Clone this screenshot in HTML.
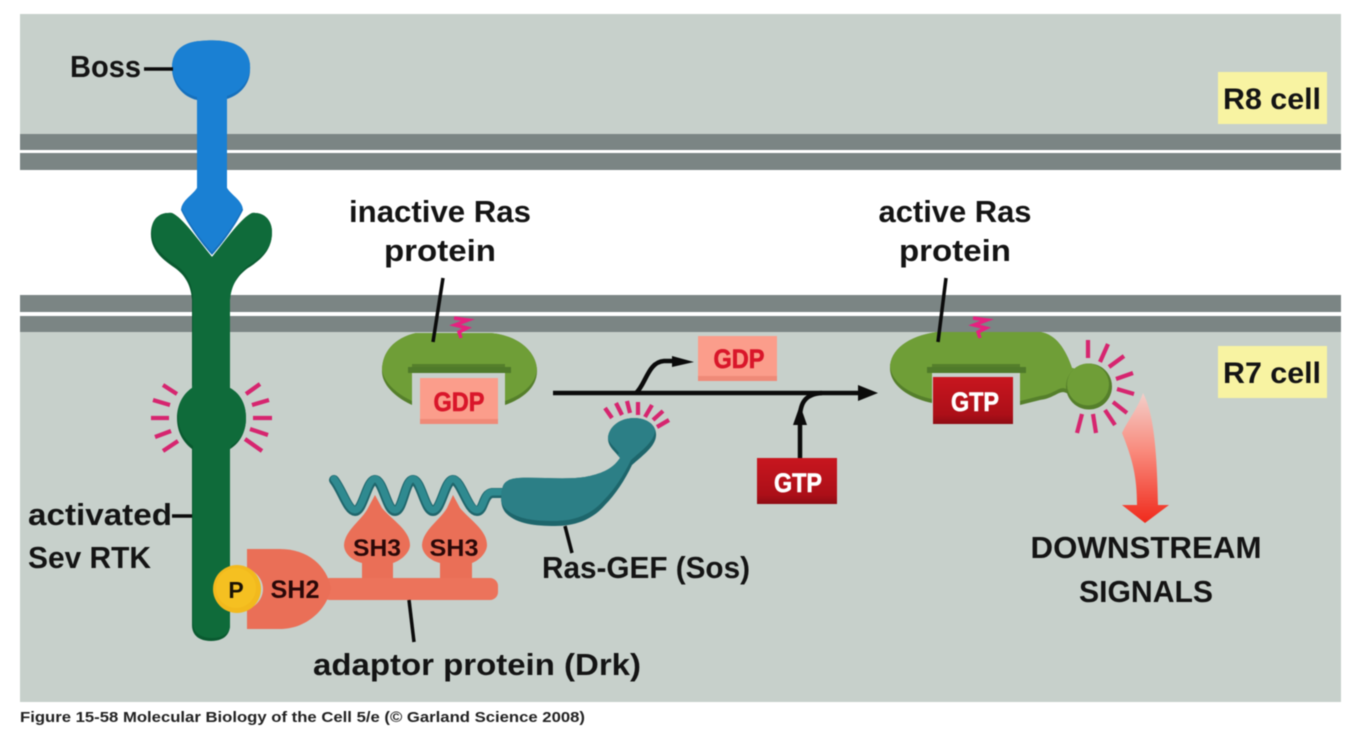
<!DOCTYPE html>
<html><head><meta charset="utf-8"><style>
html,body{margin:0;padding:0;background:#fff;width:1366px;height:732px;overflow:hidden}
svg{display:block;font-family:"Liberation Sans",sans-serif;filter:blur(.5px)}
text{font-weight:bold}
</style></head><body>
<svg width="1366" height="732" viewBox="0 0 1366 732" xmlns="http://www.w3.org/2000/svg">
<defs>
<linearGradient id="arr" x1="0" y1="0" x2="0" y2="1"><stop offset="0" stop-color="#f3cfca"/><stop offset=".45" stop-color="#f98a7c"/><stop offset="1" stop-color="#f02a1c"/></linearGradient>
<linearGradient id="gtp" x1="0" y1="0" x2="0" y2="1"><stop offset="0" stop-color="#c8161f"/><stop offset=".8" stop-color="#ac0f18"/><stop offset="1" stop-color="#8e0c14"/></linearGradient>
<path id="pSos" d="M502 490C503 482 508 479 518 478C540 477 565 480 585 477C600 474 612 470 620 458C614 450 608 447 608 438C609 425 622 418 634 418C648 418 657 426 656 436C655 447 642 456 632 465C625 480 615 495 605 505C592 520 575 526 555 526C535 526 515 524 505 512C500 505 501 497 502 490Z"/>
<path id="pRas1" d="M416 333H490C518 335 537 352 537 371C537 386 525 398 505 405V368H412V405C397 398 382 386 382 371C382 352 394 338 416 333Z"/>
<path id="pRas2" d="M937 332H1040C1056 334 1066 350 1072 368L1090 372L1080 398L1068 394C1060 388 1056 398 1040 400L1020 405V368H932V403C908 398 890 385 890 368C890 350 908 336 937 332Z"/>
<path id="pRtk" d="M192 300C191 286 186 276 175 268C160 258 150 248 151 232C152 218 160 212 172 213C183 218 198 240 212 257C226 240 241 218 252 213C264 212 272 220 272 232C272 248 264 258 248 268C237 276 231 286 230 300V388C241 394 246 405 246 418C246 432 240 443 230 449V625C230 636 222 641 211 641C200 641 192 636 192 625V449C183 442 177 432 177 418C177 405 183 394 192 388Z"/>
<path id="pBoss" d="M197 100C183 97 172 84 172 68C172 50 184 42 200 41C212 40 222 40 232 43C244 47 251 56 250 70C250 84 240 95 227 99V188C232 196 242 200 243 210C236 225 222 244 212 255C202 244 188 225 181 210C182 200 192 196 197 188Z"/>
<clipPath id="cSos"><use href="#pSos"/></clipPath>
<clipPath id="cR1"><use href="#pRas1"/></clipPath>
<clipPath id="cR2"><use href="#pRas2"/></clipPath>
<clipPath id="cRtk"><use href="#pRtk"/></clipPath>
<clipPath id="cBoss"><use href="#pBoss"/></clipPath>
</defs>
<rect x="20" y="14" width="1321" height="120" fill="#c7d0cb"/>
<rect x="20" y="332" width="1321" height="370" fill="#c7d0cb"/>
<rect x="20" y="134" width="1321" height="16" fill="#7b8584"/>
<rect x="20" y="153" width="1321" height="17" fill="#7b8584"/>
<rect x="20" y="295" width="1321" height="17" fill="#7b8584"/>
<rect x="20" y="316" width="1321" height="16" fill="#7b8584"/>

<!-- Sev RTK -->
<use href="#pRtk" fill="#0a5a30"/>
<g clip-path="url(#cRtk)"><use href="#pRtk" fill="#0f6b3a" transform="translate(1,-3)"/></g>
<!-- Boss -->
<use href="#pBoss" fill="#1670bd"/>
<g clip-path="url(#cBoss)"><use href="#pBoss" fill="#1a80d3" transform="translate(0,-3)"/></g>

<!-- Glow ticks -->
<g stroke="#d6256f" stroke-width="4.2" stroke-linecap="butt">
<path d="M163 385L177 394M153 400L170 405M151 418L169 418M155 437L171 431M163 451L178 441"/>
<path d="M260 384L246 394M269 400L252 405M272 418L253 418M268 435L250 429M262 451L245 439"/>
<path d="M605 408L612 418M616 403L622 415M627 401L630 413M638 402L638 415M652 405L645 417M663 411L653 420M669 420L657 427"/>
<path d="M1088 340L1088 358M1108 344L1100 362M1124 356L1109 367M1133 373L1116 379M1134 394L1117 389M1127 413L1113 402M1115 425L1105 410M1096 433L1093 414M1077 433L1082 414"/>
</g>

<!-- inactive Ras -->
<use href="#pRas1" fill="#557f2b"/>
<g clip-path="url(#cR1)"><use href="#pRas1" fill="#6f9e37" transform="translate(0,-4)"/></g>
<rect x="408" y="367" width="103" height="6" fill="#4f7a2a"/>
<rect x="420" y="378" width="78" height="46" fill="#fb9d8b"/>
<rect x="420" y="419" width="78" height="5" fill="#ef8a78"/>
<text x="459" y="411" text-anchor="middle" font-size="27" fill="#d9162a" stroke="#d9162a" stroke-width=".6" textLength="51" lengthAdjust="spacingAndGlyphs">GDP</text>
<path d="M454 318L468 320L455 325L467 328L459 332L461 338" fill="none" stroke="#e6217f" stroke-width="3.5"/>
<path d="M443 278L433 342" stroke="#0b0b0b" stroke-width="3.5" fill="none"/>

<!-- active Ras -->
<use href="#pRas2" fill="#557f2b"/>
<g clip-path="url(#cR2)"><use href="#pRas2" fill="#6f9e37" transform="translate(0,-4)"/></g>
<circle cx="1089" cy="386.5" r="23" fill="#557f2b"/>
<circle cx="1088" cy="384.5" r="21" fill="#6f9e37"/>
<rect x="927" y="367" width="99" height="6" fill="#4f7a2a"/>
<rect x="933" y="377" width="80" height="47" fill="url(#gtp)"/>
<text x="975" y="411" text-anchor="middle" font-size="27" fill="#fff" stroke="#fff" stroke-width=".6" textLength="48" lengthAdjust="spacingAndGlyphs">GTP</text>
<path d="M973 318L987 320L974 325L986 328L978 332L980 338" fill="none" stroke="#e6217f" stroke-width="3.5"/>
<path d="M946 278L938 342" stroke="#0b0b0b" stroke-width="3.5" fill="none"/>

<!-- Arrows -->
<path d="M553 393H860" stroke="#0b0b0b" stroke-width="4.5" fill="none"/>
<path d="M858 385L878 393L858 401Z" fill="#0b0b0b"/>
<path d="M636 393C646 384 648 362 664 361H680" stroke="#0b0b0b" stroke-width="4.5" fill="none"/>
<path d="M672 356L694 362L672 367Z" fill="#0b0b0b"/>
<path d="M800 460V418C800 402 806 394 822 393" stroke="#0b0b0b" stroke-width="4.5" fill="none"/>
<path d="M793 425L800 405L807 425Z" fill="#0b0b0b"/>

<rect x="698" y="336" width="79" height="45" fill="#fb9d8b"/>
<rect x="698" y="376" width="79" height="5" fill="#ef8a78"/>
<text x="739" y="368" text-anchor="middle" font-size="27" fill="#d9162a" stroke="#d9162a" stroke-width=".6" textLength="51" lengthAdjust="spacingAndGlyphs">GDP</text>
<rect x="757" y="458" width="80" height="46" fill="url(#gtp)"/>
<text x="798" y="492" text-anchor="middle" font-size="27" fill="#fff" stroke="#fff" stroke-width=".6" textLength="48" lengthAdjust="spacingAndGlyphs">GTP</text>

<!-- Downstream arrow -->
<path d="M1143 393C1152 410 1157 440 1158 505H1169L1145 523L1122 505H1137C1137 478 1133 460 1122 433C1128 420 1138 408 1143 393Z" fill="url(#arr)"/>

<!-- Adaptor -->
<path d="M362 563C350 560 344 552 344 545C345 530 362 520 368 508L375 495L382 508C392 520 410 530 410 545C410 552 402 560 393 563V582H362Z" fill="#ea6f57"/>
<path d="M440 563C428 560 422 552 422 545C423 530 440 520 447 508L453 495L460 508C470 520 487 530 487 545C487 552 480 560 472 563V582H440Z" fill="#ea6f57"/>
<rect x="322" y="578" width="176" height="22" rx="8" fill="#ec735b"/>
<path d="M247 549H280C308 549 327 566 331 588C327 610 306 629 280 629H247V610C257 606 263 598 263 589C263 580 257 572 247 568Z" fill="#ea6f57"/>
<circle cx="237" cy="589" r="24" fill="#f2b91d"/>
<circle cx="236" cy="588" r="20" fill="#f5c021"/>
<text x="236" y="598" text-anchor="middle" font-size="23" fill="#1a1205">P</text>
<text x="295" y="598" text-anchor="middle" font-size="25" fill="#2a0808" textLength="49" lengthAdjust="spacingAndGlyphs">SH2</text>
<text x="377" y="556" text-anchor="middle" font-size="24" fill="#2a0808" textLength="48" lengthAdjust="spacingAndGlyphs">SH3</text>
<text x="454" y="556" text-anchor="middle" font-size="24" fill="#2a0808" textLength="49" lengthAdjust="spacingAndGlyphs">SH3</text>

<!-- Sos helix -->
<path id="hx" d="M334 480C342 490 348 511 355 511C363 511 367 480 375 480C383 480 387 511 395 511C403 511 405 480 413 480C421 480 425 511 433 511C441 511 445 480 453 480C461 480 468 511 477 511C484 511 483 494 492 493H505" fill="none" stroke="#1f666c" stroke-width="10" stroke-linecap="round" stroke-linejoin="round"/>
<path d="M334 479C342 489 348 510 355 510C363 510 367 479 375 479C383 479 387 510 395 510C403 510 405 479 413 479C421 479 425 510 433 510C441 510 445 479 453 479C461 479 468 510 477 510C484 510 483 493 492 492H505" fill="none" stroke="#2f8a90" stroke-width="7" stroke-linecap="round" stroke-linejoin="round"/>
<use href="#pSos" fill="#1e666c"/>
<g clip-path="url(#cSos)"><use href="#pSos" fill="#2c7f86" transform="translate(-1,-5)"/></g>
<path d="M565 526L572 553" stroke="#0b0b0b" stroke-width="3.5" fill="none"/>
<path d="M409 600L414 642" stroke="#0b0b0b" stroke-width="3.5" fill="none"/>
<path d="M144 69H173M172 516H192" stroke="#0b0b0b" stroke-width="3.5" fill="none"/>

<!-- Labels -->
<g fill="#141414" font-size="31">
<text x="70" y="77" textLength="71" lengthAdjust="spacingAndGlyphs">Boss</text>
<text x="440" y="222" text-anchor="middle" textLength="182" lengthAdjust="spacingAndGlyphs">inactive Ras</text>
<text x="440" y="261" text-anchor="middle" textLength="112" lengthAdjust="spacingAndGlyphs">protein</text>
<text x="955" y="222" text-anchor="middle" textLength="153" lengthAdjust="spacingAndGlyphs">active Ras</text>
<text x="955" y="261" text-anchor="middle" textLength="112" lengthAdjust="spacingAndGlyphs">protein</text>
<text x="28" y="525" textLength="144" lengthAdjust="spacingAndGlyphs">activated</text>
<text x="28" y="568" textLength="123" lengthAdjust="spacingAndGlyphs">Sev RTK</text>
<text x="542" y="578" textLength="208" lengthAdjust="spacingAndGlyphs">Ras-GEF (Sos)</text>
<text x="313" y="675" textLength="328" lengthAdjust="spacingAndGlyphs">adaptor protein (Drk)</text>
<text x="1146" y="558" text-anchor="middle" textLength="231" lengthAdjust="spacingAndGlyphs">DOWNSTREAM</text>
<text x="1146" y="602" text-anchor="middle" textLength="134" lengthAdjust="spacingAndGlyphs">SIGNALS</text>
</g>
<rect x="1218" y="72" width="109" height="52" fill="#f8f3a2"/>
<rect x="1218" y="346" width="109" height="52" fill="#f8f3a2"/>
<text x="1272" y="109" text-anchor="middle" font-size="30" fill="#141414" textLength="98" lengthAdjust="spacingAndGlyphs">R8 cell</text>
<text x="1272" y="383" text-anchor="middle" font-size="30" fill="#141414" textLength="98" lengthAdjust="spacingAndGlyphs">R7 cell</text>
<text x="20" y="722" font-size="15" fill="#222" textLength="565" lengthAdjust="spacingAndGlyphs">Figure 15-58  Molecular Biology of the Cell 5/e (© Garland Science 2008)</text>
</svg>
</body></html>
